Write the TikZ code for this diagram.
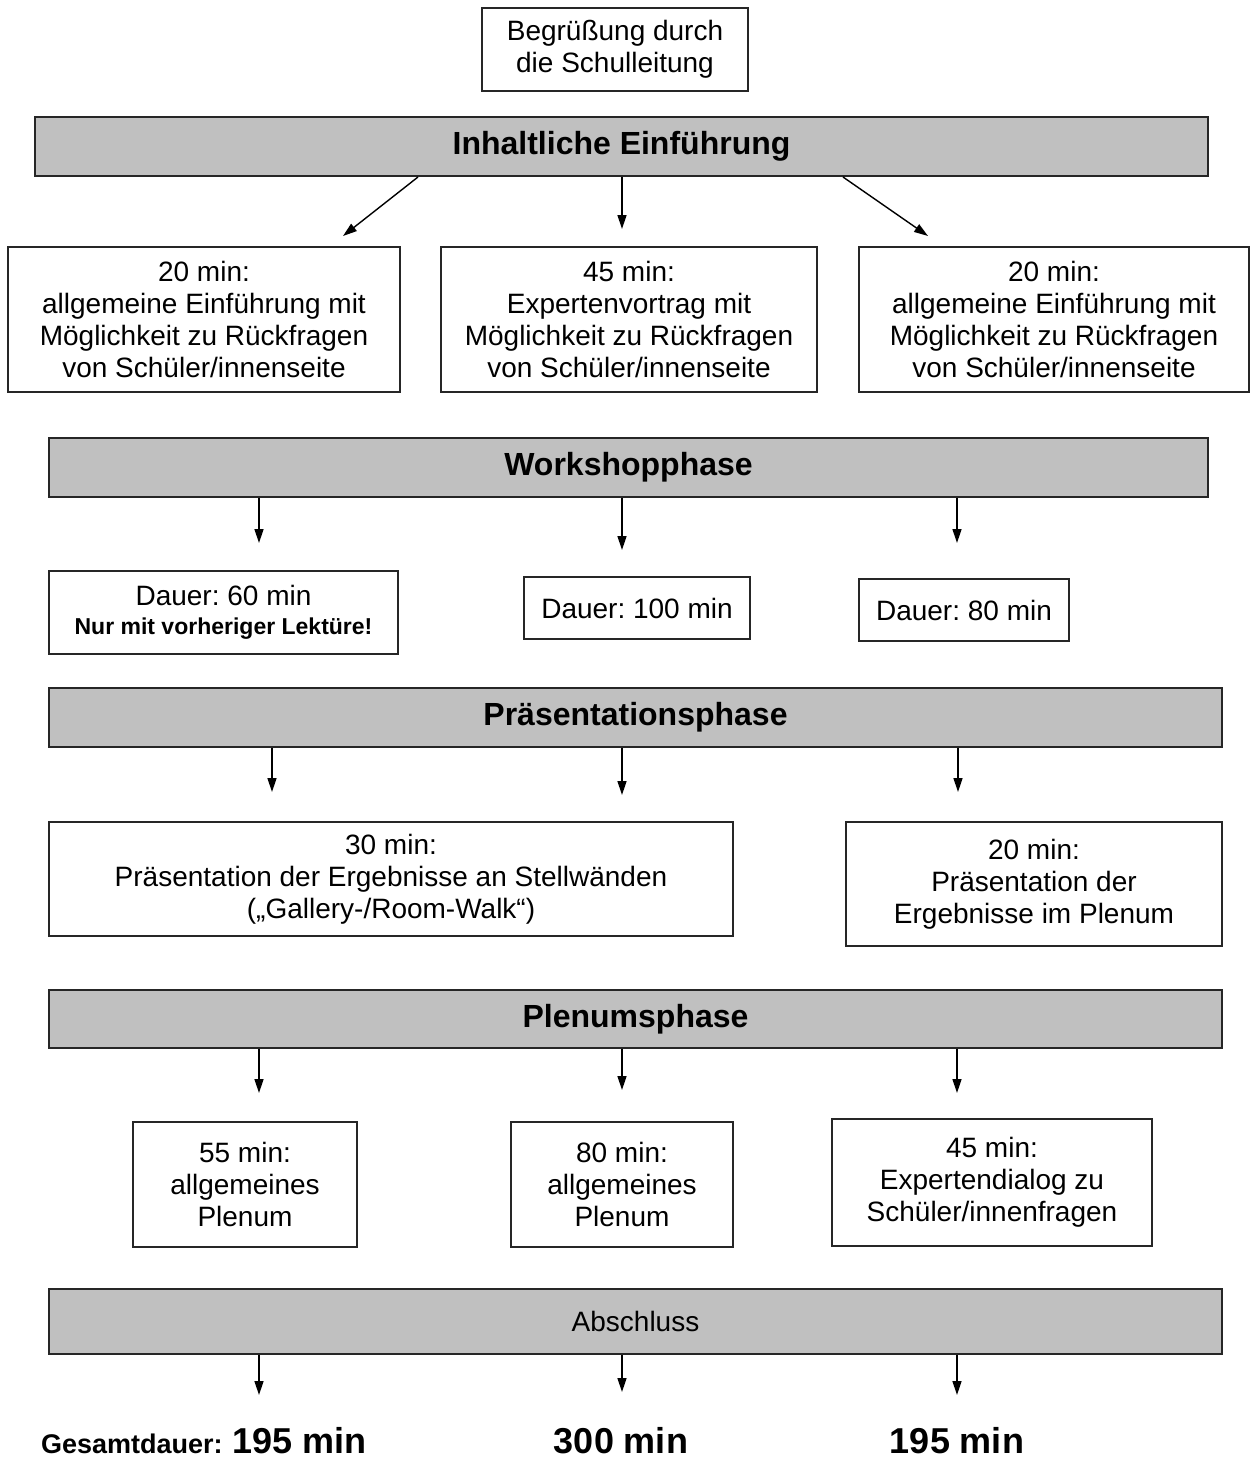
\documentclass[tikz,border=0pt]{standalone}
\usepackage{fontspec}
\setmainfont{Liberation Sans}
\frenchspacing
\usetikzlibrary{arrows.meta,positioning}
\definecolor{phasegray}{RGB}{192,192,192}

\tikzset{
	box/.style={draw=black!85, line width=1.4pt, fill=white, align=center, inner sep=0pt, font=\fontsize{28}{32}\selectfont},
	phase/.style={draw=black!85, line width=1.8pt, fill=phasegray, inner sep=0pt, minimum height=59pt, font=\fontsize{32}{36}\selectfont\bfseries},
	flow/.style={-{Triangle[length=14pt,width=9pt]}, line width=1.4pt},
	total/.style={anchor=base, inner sep=0pt, font=\fontsize{36}{40}\selectfont\bfseries}
}

\begin{document}
\begin{tikzpicture}[x=1pt,y=-1pt]
		
		\useasboundingbox (0,0) rectangle (1250,1460);
		
		%greet
		\node[box, minimum width=266pt, minimum height=83pt] (greet) at (615,49.5) {Begrüßung durch\\die Schulleitung};
		%intro
		\node[phase, minimum width=1173pt] (intro) at (621.5,146.5) {Inhaltliche Einführung};
		%intro boxes
		\node[box, minimum width=392pt, minimum height=145pt] (introA) at (204,319.5) {20 min:\\allgemeine Einführung mit\\Möglichkeit zu Rückfragen\\von Schüler/innenseite};
		\node[box, minimum width=376pt, minimum height=145pt] (introB) at (629,319.5) {45 min:\\Expertenvortrag mit\\Möglichkeit zu Rückfragen\\von Schüler/innenseite};
		\node[box, minimum width=390pt, minimum height=145pt] (introC) at (1054,319.5) {20 min:\\allgemeine Einführung mit\\Möglichkeit zu Rückfragen\\von Schüler/innenseite};
		
		%work
		\node[phase, minimum width=1159pt] (work) at (628.5,467.5) {Workshopphase};
		%work boxes
		\node[box, minimum width=349pt, minimum height=83pt] (workA) at (223.5,612.5) {Dauer: 60 min\\[-3pt]{\fontsize{23}{28}\selectfont\bfseries Nur mit vorheriger Lektüre!}};
		\node[box, minimum width=226pt, minimum height=62pt] (workB) at (637,608) {Dauer: 100 min};
		\node[box, minimum width=210pt, minimum height=62pt] (workC) at (964,610) {Dauer: 80 min};
		
		%pres
		\node[phase, minimum width=1173pt] (pres) at (635.5,717.5) {Präsentationsphase};
		%pres boxes
		\node[box, minimum width=684pt, minimum height=114pt] (presA) at (391,879) {30 min:\\Präsentation der Ergebnisse an Stellwänden\\(„Gallery-/Room-Walk“)};
		\node[box, minimum width=376pt, minimum height=124pt] (presB) at (1034,884) {20 min:\\Präsentation der\\Ergebnisse im Plenum};
		
		%plen
		\node[phase, minimum width=1173pt, minimum height=58pt] (plen) at (635.5,1019) {Plenumsphase};
		%plen boxes
		\node[box, minimum width=224pt, minimum height=125pt] (plenA) at (245,1184.5) {55 min:\\allgemeines\\Plenum};
		\node[box, minimum width=222pt, minimum height=125pt] (plenB) at (622,1184.5) {80 min:\\allgemeines\\Plenum};
		\node[box, minimum width=320pt, minimum height=127pt] (plenC) at (992,1182.5) {45 min:\\Expertendialog zu\\Schüler/innenfragen};
		
		%final
		\node[phase, minimum width=1173pt, minimum height=65pt, font=\fontsize{28}{32}\selectfont] (final) at (635.5,1321.5) {Abschluss};
		
		%totals
		\node[total] (totalA) at (204,1453) {{\fontsize{27}{30}\selectfont Gesamtdauer:} 195 min};
		\node[total] (totalB) at (621,1453) {300 min};
		\node[total] (totalC) at (957,1453) {195 min};
		
		%arrow ends
		\coordinate (fromA) at (418,177);
		\coordinate (fromC) at (843,177);
		\coordinate (tipA1) at (343,236);
		\coordinate (tipB1) at (622,229);
		\coordinate (tipC1) at (928,236);
		\coordinate (tipA2) at (259,543);
		\coordinate (tipB2) at (622,550);
		\coordinate (tipC2) at (957,543);
		\coordinate (tipA3) at (272,792);
		\coordinate (tipB3) at (622,795);
		\coordinate (tipC3) at (958,792);
		\coordinate (tipA4) at (259,1093);
		\coordinate (tipB4) at (622,1090);
		\coordinate (tipC4) at (957,1093);
		\coordinate (tipA5) at (259,1395);
		\coordinate (tipB5) at (622,1392);
		\coordinate (tipC5) at (957,1395);
		
		% intro
		\draw[flow] (fromA) -- (tipA1);
		\draw[flow] (intro.south -| tipB1) -- (tipB1);
		\draw[flow] (fromC) -- (tipC1);
		
		% work
		\foreach \c in {A,B,C}
			\draw[flow] (work.south -| tip\c2) -- (tip\c2);
		
		% pres
		\foreach \c in {A,B,C}
			\draw[flow] (pres.south -| tip\c3) -- (tip\c3);
		
		% plen
		\foreach \c in {A,B,C}
			\draw[flow] (plen.south -| tip\c4) -- (tip\c4);
		
		% final
		\foreach \c in {A,B,C}
			\draw[flow] (final.south -| tip\c5) -- (tip\c5);
		
\end{tikzpicture}
\end{document}
